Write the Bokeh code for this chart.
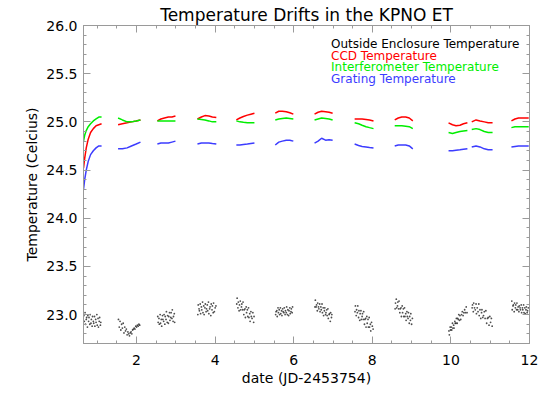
from bokeh.plotting import figure
from bokeh.models import (LinearAxis, SingleIntervalTicker, PrintfTickFormatter,
                          CustomJSTickFormatter, Label, Range1d)
from bokeh.embed import file_html
from bokeh.resources import INLINE

# ---------------- data ----------------
# observing-night segments: time (JD-2453754)
seg_t = [
    [0.65, 0.68, 0.72, 0.77, 0.83, 0.90, 0.97, 1.04, 1.11],
    [1.53, 1.64, 1.76, 1.87, 1.99, 2.10],
    [2.53, 2.62, 2.71, 2.81, 2.90, 2.99],
    [3.55, 3.65, 3.74, 3.84, 3.93, 4.03],
    [4.54, 4.63, 4.72, 4.82, 4.91, 5.00],
    [5.53, 5.62, 5.71, 5.81, 5.90, 5.99],
    [6.53, 6.62, 6.71, 6.81, 6.90, 6.99],
    [7.55, 7.65, 7.74, 7.84, 7.93, 8.03],
    [8.57, 8.66, 8.75, 8.85, 8.94, 9.03],
    [9.94, 10.04, 10.13, 10.23, 10.32, 10.42],
    [10.53, 10.64, 10.74, 10.85, 10.95, 11.06],
    [11.54, 11.63, 11.72, 11.80, 11.89, 11.98],
]

ccd_temp = [
    [24.52, 24.62, 24.73, 24.82, 24.89, 24.93, 24.96, 24.97, 24.98],
    [24.97, 24.98, 24.99, 25.00, 25.01, 25.02],
    [25.01, 25.03, 25.04, 25.05, 25.05, 25.06],
    [25.03, 25.05, 25.065, 25.06, 25.05, 25.045],
    [25.02, 25.04, 25.055, 25.07, 25.08, 25.09],
    [25.09, 25.11, 25.11, 25.105, 25.095, 25.08],
    [25.08, 25.10, 25.11, 25.105, 25.10, 25.09],
    [25.03, 25.03, 25.03, 25.025, 25.02, 25.01],
    [25.02, 25.04, 25.05, 25.05, 25.04, 25.01],
    [24.99, 24.97, 24.96, 24.965, 24.98, 24.99],
    [25.00, 25.02, 25.01, 25.00, 24.99, 24.99],
    [25.01, 25.03, 25.04, 25.04, 25.04, 25.04],
]

interf_temp = [
    [24.80, 24.86, 24.91, 24.95, 24.98, 25.01, 25.03, 25.05, 25.05],
    [25.04, 25.02, 25.00, 25.00, 25.01, 25.02],
    [25.01, 25.01, 25.01, 25.01, 25.01, 25.01],
    [25.03, 25.025, 25.02, 25.01, 25.00, 25.00],
    [25.01, 25.00, 24.995, 24.99, 24.99, 24.99],
    [25.02, 25.03, 25.035, 25.04, 25.035, 25.03],
    [25.02, 25.03, 25.04, 25.035, 25.03, 25.02],
    [24.99, 24.98, 24.965, 24.95, 24.94, 24.93],
    [24.96, 24.96, 24.96, 24.955, 24.95, 24.93],
    [24.89, 24.88, 24.89, 24.90, 24.905, 24.91],
    [24.92, 24.93, 24.92, 24.90, 24.89, 24.89],
    [24.94, 24.95, 24.95, 24.95, 24.95, 24.95],
]

grating_temp = [
    [24.30, 24.40, 24.50, 24.59, 24.66, 24.70, 24.73, 24.75, 24.75],
    [24.72, 24.72, 24.73, 24.75, 24.77, 24.79],
    [24.77, 24.78, 24.78, 24.78, 24.79, 24.80],
    [24.77, 24.78, 24.78, 24.78, 24.775, 24.77],
    [24.76, 24.76, 24.765, 24.77, 24.775, 24.78],
    [24.76, 24.79, 24.80, 24.81, 24.81, 24.80],
    [24.78, 24.80, 24.83, 24.81, 24.815, 24.81],
    [24.77, 24.755, 24.745, 24.74, 24.735, 24.73],
    [24.75, 24.76, 24.76, 24.76, 24.75, 24.72],
    [24.70, 24.70, 24.705, 24.71, 24.715, 24.72],
    [24.74, 24.75, 24.74, 24.72, 24.71, 24.71],
    [24.74, 24.745, 24.75, 24.75, 24.75, 24.75],
]

# outside enclosure temperature (scattered samples)
out_t = [
    [0.66, 0.67, 0.69, 0.70, 0.72, 0.73, 0.75, 0.76, 0.78, 0.79, 0.81, 0.82, 0.84, 0.85, 0.87,
     0.88, 0.90, 0.91, 0.93, 0.94, 0.96, 0.97, 0.99, 1.00, 1.02, 1.03, 1.05, 1.06, 1.08, 1.09],
    [1.54, 1.56, 1.58, 1.60, 1.62, 1.64, 1.66, 1.68, 1.70, 1.72, 1.74, 1.76, 1.78, 1.80,
     1.82, 1.84, 1.86, 1.88, 1.90, 1.92, 1.94, 1.96, 1.98, 2.00, 2.02, 2.04, 2.06, 2.08],
    [2.54, 2.55, 2.57, 2.58, 2.60, 2.61, 2.63, 2.64, 2.66, 2.67, 2.69, 2.70, 2.72, 2.73, 2.75,
     2.76, 2.78, 2.79, 2.81, 2.82, 2.84, 2.85, 2.87, 2.88, 2.90, 2.91, 2.93, 2.94, 2.96, 2.97],
    [3.56, 3.57, 3.59, 3.60, 3.62, 3.63, 3.65, 3.66, 3.68, 3.69, 3.71, 3.72, 3.74, 3.75, 3.77,
     3.78, 3.80, 3.81, 3.83, 3.84, 3.86, 3.87, 3.89, 3.90, 3.92, 3.93, 3.95, 3.96, 3.98, 4.00, 4.02],
    [4.55, 4.56, 4.58, 4.59, 4.61, 4.62, 4.64, 4.65, 4.67, 4.68, 4.70, 4.71, 4.73, 4.74, 4.76,
     4.77, 4.79, 4.80, 4.82, 4.83, 4.85, 4.86, 4.88, 4.89, 4.91, 4.92, 4.94, 4.96, 4.98, 4.99],
    [5.54, 5.55, 5.57, 5.58, 5.60, 5.61, 5.63, 5.64, 5.66, 5.67, 5.69, 5.70, 5.72, 5.73, 5.75,
     5.76, 5.78, 5.79, 5.81, 5.82, 5.84, 5.85, 5.87, 5.88, 5.90, 5.91, 5.93, 5.94, 5.96, 5.97],
    [6.54, 6.55, 6.57, 6.58, 6.60, 6.61, 6.63, 6.64, 6.66, 6.67, 6.69, 6.70, 6.72, 6.73, 6.75,
     6.76, 6.78, 6.79, 6.81, 6.82, 6.84, 6.85, 6.87, 6.88, 6.90, 6.91, 6.93, 6.94, 6.96, 6.97],
    [7.56, 7.57, 7.59, 7.60, 7.62, 7.63, 7.65, 7.66, 7.68, 7.69, 7.71, 7.72, 7.74, 7.75, 7.77,
     7.78, 7.80, 7.81, 7.83, 7.84, 7.86, 7.87, 7.89, 7.90, 7.92, 7.93, 7.95, 7.96, 7.98, 8.00, 8.02],
    [8.58, 8.59, 8.61, 8.62, 8.64, 8.65, 8.67, 8.68, 8.70, 8.71, 8.73, 8.74, 8.76, 8.77, 8.79,
     8.80, 8.82, 8.83, 8.85, 8.86, 8.88, 8.89, 8.91, 8.92, 8.94, 8.95, 8.97, 8.98, 9.00, 9.02],
    [9.95, 9.96, 9.98, 9.99, 10.01, 10.02, 10.04, 10.05, 10.07, 10.08, 10.10, 10.11, 10.13, 10.14,
     10.16, 10.17, 10.19, 10.20, 10.22, 10.23, 10.25, 10.27, 10.29, 10.31, 10.33, 10.35, 10.37, 10.39, 10.41],
    [10.54, 10.55, 10.57, 10.58, 10.60, 10.62, 10.64, 10.65, 10.67, 10.69, 10.71, 10.72, 10.74, 10.76,
     10.78, 10.79, 10.81, 10.83, 10.85, 10.87, 10.89, 10.91, 10.93, 10.95, 10.97, 10.99, 11.01, 11.03, 11.05],
    [11.55, 11.56, 11.58, 11.59, 11.61, 11.62, 11.64, 11.65, 11.67, 11.68, 11.70, 11.71, 11.73, 11.74,
     11.76, 11.77, 11.79, 11.80, 11.82, 11.83, 11.85, 11.86, 11.88, 11.89, 11.91, 11.92, 11.94, 11.95, 11.97],
]
out_temp = [
    [22.99, 22.93, 23.02, 22.90, 22.95, 22.97, 22.87, 22.99, 22.93, 22.97, 22.90, 23.00, 22.91, 22.95, 22.88,
     22.98, 22.93, 22.91, 22.98, 22.88, 22.95, 22.92, 23.00, 22.89, 22.96, 22.87, 22.93, 22.97, 22.89, 22.92],
    [22.95, 22.87, 22.93, 22.84, 22.90, 22.86, 22.91, 22.81, 22.87, 22.83, 22.85, 22.79, 22.82, 22.80,
     22.78, 22.81, 22.82, 22.80, 22.84, 22.85, 22.86, 22.85, 22.88, 22.87, 22.89, 22.88, 22.90, 22.89],
    [22.98, 22.92, 22.96, 22.90, 23.00, 22.91, 22.95, 22.88, 22.99, 22.95, 22.93, 23.00, 22.90, 22.98, 22.95,
     23.03, 22.92, 22.99, 22.91, 22.98, 23.02, 22.94, 22.97, 23.02, 22.96, 23.05, 22.93, 22.98, 23.01, 22.92],
    [23.00, 23.10, 23.06, 23.04, 23.11, 23.01, 23.08, 23.05, 23.13, 23.02, 23.09, 23.00, 23.07, 23.11, 23.03,
     23.06, 23.10, 23.04, 23.13, 23.01, 23.06, 23.08, 22.99, 23.11, 23.05, 23.09, 23.02, 23.12, 23.03, 23.07, 23.09],
    [23.11, 23.17, 23.07, 23.13, 23.04, 23.10, 23.14, 23.05, 23.08, 23.11, 23.05, 23.13, 23.00, 23.05, 23.06,
     22.97, 23.08, 23.02, 23.05, 22.98, 23.07, 22.97, 23.01, 22.93, 23.03, 22.98, 22.96, 23.02, 22.92, 22.98],
    [23.00, 23.03, 23.04, 22.98, 23.07, 23.02, 23.05, 23.00, 23.07, 23.01, 23.04, 22.99, 23.06, 23.03, 23.02,
     23.07, 23.00, 23.04, 23.02, 23.08, 23.00, 23.05, 22.99, 23.04, 23.07, 23.01, 23.03, 23.06, 23.02, 23.08],
    [23.08, 23.15, 23.08, 23.10, 23.04, 23.12, 23.08, 23.06, 23.11, 23.03, 23.08, 23.05, 23.11, 23.02, 23.07,
     22.99, 23.04, 23.07, 23.00, 23.02, 23.05, 22.99, 23.06, 22.96, 23.00, 23.01, 22.93, 23.02, 22.97, 23.00],
    [23.03, 23.09, 22.99, 23.05, 23.02, 23.09, 22.97, 23.04, 22.94, 23.01, 23.04, 22.95, 22.98, 23.01, 22.95,
     23.03, 22.90, 22.95, 22.96, 22.87, 22.98, 22.91, 22.95, 22.87, 22.97, 22.87, 22.90, 22.83, 22.92, 22.88, 22.85],
    [23.06, 23.12, 23.16, 23.07, 23.09, 23.13, 23.06, 23.14, 23.02, 23.06, 23.07, 22.98, 23.09, 23.02, 23.06,
     22.98, 23.07, 22.98, 23.01, 22.94, 23.03, 22.98, 22.96, 23.02, 22.91, 22.98, 22.94, 23.01, 22.90, 22.96],
    [22.83, 22.79, 22.87, 22.84, 22.87, 22.84, 22.91, 22.86, 22.89, 22.86, 22.93, 22.91, 22.91, 22.96,
     22.91, 22.96, 22.95, 23.00, 22.94, 22.99, 22.95, 23.00, 23.03, 22.99, 23.02, 23.05, 23.02, 23.08, 23.02],
    [23.07, 23.10, 23.03, 23.12, 23.07, 23.05, 23.11, 23.01, 23.07, 23.03, 23.11, 22.99, 23.05, 22.96,
     23.02, 23.05, 22.97, 22.99, 23.03, 22.96, 23.04, 22.91, 22.96, 22.97, 22.89, 22.98, 22.92, 22.96, 22.88],
    [23.14, 23.05, 23.09, 23.10, 23.03, 23.12, 23.07, 23.10, 23.05, 23.12, 23.05, 23.08, 23.03, 23.09,
     23.07, 23.05, 23.10, 23.02, 23.07, 23.05, 23.10, 23.02, 23.07, 23.01, 23.05, 23.08, 23.02, 23.04, 23.07],
]

legend_labels = ["Outside Enclosure Temperature", "CCD Temperature",
                 "Interferometer Temperature", "Grating Temperature"]
legend_colors = ["#000000", "#ff0000", "#00ee00", "#3c3cff"]

x_ticks_interval = 2
y_ticks_interval = 0.5

# ---------------- figure ----------------
FONT = "DejaVu Sans"
AXIS_COL = "#9a9a9a"

p = figure(frame_width=446, frame_height=318,
           x_range=Range1d(0.65, 12.0), y_range=Range1d(22.70, 26.0),
           output_backend="svg", toolbar_location=None,
           x_axis_location=None, y_axis_location=None,
           min_border_left=83, min_border_right=12, min_border_top=25, min_border_bottom=0,
           background_fill_color="white", border_fill_color="white")
p.grid.visible = False
p.outline_line_color = AXIS_COL

p.title.text = "Temperature Drifts in the KPNO ET"
p.title.align = "center"
p.title.text_font = FONT
p.title.text_font_size = "17px"
p.title.text_font_style = "normal"
p.title.text_color = "black"
p.title.standoff = 2
p.title.offset = 0


def make_axis(ticker, show_labels, fmt=None):
    ax = LinearAxis(ticker=ticker)
    ax.axis_line_color = AXIS_COL
    ax.major_tick_line_color = AXIS_COL
    ax.minor_tick_line_color = AXIS_COL
    ax.major_tick_in = 7
    ax.major_tick_out = 0
    ax.minor_tick_in = 3
    ax.minor_tick_out = 0
    if show_labels:
        ax.formatter = fmt
        ax.major_label_text_font = FONT
        ax.major_label_text_font_size = "14px"
        ax.major_label_text_color = "black"
    else:
        ax.formatter = CustomJSTickFormatter(code="return ''")
        ax.major_label_standoff = 0
    return ax


xt = SingleIntervalTicker(interval=x_ticks_interval, num_minor_ticks=4)
yt = SingleIntervalTicker(interval=y_ticks_interval, num_minor_ticks=5)

xb = make_axis(xt, True, PrintfTickFormatter(format="%d"))
xb.major_label_standoff = 11
xb.axis_label = "date (JD-2453754)"
xb.axis_label_text_font = FONT
xb.axis_label_text_font_size = "14px"
xb.axis_label_text_font_style = "normal"
xb.axis_label_text_color = "black"
xb.axis_label_standoff = 2
p.add_layout(xb, "below")

yl = make_axis(yt, True, PrintfTickFormatter(format="%.1f"))
yl.major_label_standoff = 6
yl.axis_label = "Temperature (Celcius)"
yl.axis_label_text_font = FONT
yl.axis_label_text_font_size = "14px"
yl.axis_label_text_font_style = "normal"
yl.axis_label_text_color = "black"
yl.axis_label_standoff = 3
p.add_layout(yl, "left")

p.add_layout(make_axis(SingleIntervalTicker(interval=x_ticks_interval, num_minor_ticks=4), False), "above")
p.add_layout(make_axis(SingleIntervalTicker(interval=y_ticks_interval, num_minor_ticks=5), False), "right")

# outside temperature dots
flat_t = [t for seg in out_t for t in seg]
flat_T = [v for seg in out_temp for v in seg]
p.scatter(flat_t, flat_T, marker="circle", size=1.8, color="#222222", alpha=0.8, line_width=0)

# temperature curves
p.multi_line(seg_t, ccd_temp, line_color=legend_colors[1], line_width=1.5)
p.multi_line(seg_t, interf_temp, line_color=legend_colors[2], line_width=1.5)
p.multi_line(seg_t, grating_temp, line_color=legend_colors[3], line_width=1.5)

# legend texts
leg_y = [25.805, 25.685, 25.57, 25.45]
for lab, col, yy in zip(legend_labels, legend_colors, leg_y):
    p.add_layout(Label(x=6.95, y=yy, text=lab, text_color=col, text_font=FONT,
                       text_font_size="12px", text_baseline="middle"))

open("out.html", "w").write(file_html(p, INLINE))
